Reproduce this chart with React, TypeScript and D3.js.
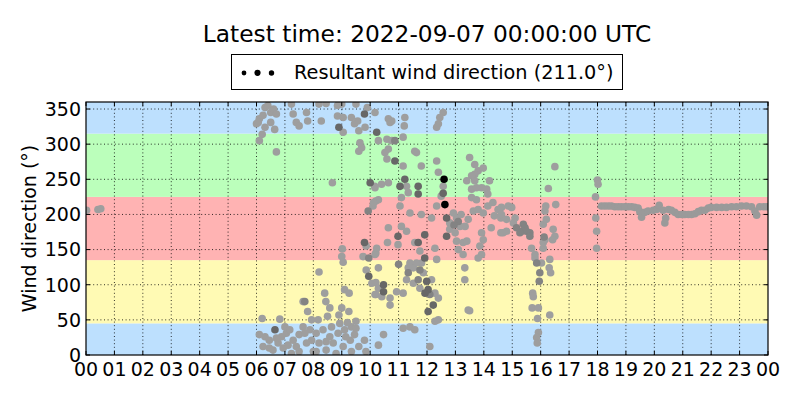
import React from "react";
import * as d3 from "d3";

const title = "Latest time: 2022-09-07 00:00:00 UTC";
const legendLabel = "Resultant wind direction (211.0°)";
const yLabel = "Wind direction (°)";
const hourTicks = d3.range(0, 25);
const degTicks = [0, 50, 100, 150, 200, 250, 300, 350];
const sectorBands: [number, number, string][] = [
  [0, 45, "N"],
  [45, 135, "E"],
  [135, 225, "S"],
  [225, 315, "W"],
  [315, 360, "N"],
];

// [hour, direction°]
const lightPoints: [number, number][] = [
  [0.02, 206], [0.42, 207], [0.52, 208],
  [6.0, 329], [6.1, 336], [6.3, 352], [6.4, 355], [6.5, 345], [6.6, 350], [6.7, 343], [6.5, 331], [6.3, 324], [6.2, 314], [6.1, 305], [6.06, 331], [6.23, 341], [6.64, 321],
  [7.23, 357], [7.29, 343], [7.4, 331], [7.5, 326], [7.76, 345], [7.8, 333], [6.7, 289],
  [8.2, 357], [8.45, 358], [8.85, 355], [9.0, 357], [8.85, 340], [9.05, 338], [9.05, 317], [8.28, 333],
  [9.5, 357], [9.56, 333], [9.6, 319], [9.82, 324], [9.9, 352], [9.34, 338], [9.45, 329],
  [9.64, 302], [9.7, 295], [9.6, 290], [8.67, 245], [10.16, 240], [10.1, 212], [10.2, 219],
  [9.86, 155], [9.75, 140], [10.2, 145], [9.02, 151], [9.0, 140], [9.05, 132],
  [8.2, 118], [9.86, 121], [10.2, 103], [10.2, 86], [9.1, 93], [9.26, 88],
  [7.64, 76], [7.8, 62], [8.4, 88], [8.44, 76], [8.58, 67], [8.5, 55], [8.9, 57], [9.0, 67], [9.25, 62], [7.94, 50], [8.17, 50],
  [6.2, 52], [6.82, 51],
  [6.1, 29], [6.3, 26], [6.45, 21], [6.76, 17], [6.94, 10], [7.05, 31], [7.0, 40], [7.17, 36], [7.29, 21], [7.4, 12], [7.5, 29], [7.64, 40], [7.7, 31], [7.88, 36], [7.94, 21],
  [8.1, 31], [8.2, 17], [8.34, 36], [8.45, 7], [8.58, 26], [8.64, 40], [8.7, 17], [8.87, 31], [9.05, 12], [9.1, 36], [9.3, 21], [9.34, 5], [9.5, 48], [9.6, 12], [9.8, 21], [9.85, 5],
  [9.45, 29], [6.45, 10], [7.5, 5], [6.88, 26], [6.23, 12], [6.58, 7], [7.23, 2], [8.1, 5], [8.45, 19], [8.8, 2], [9.14, 26], [7.76, 17], [8.0, 5], [7.11, 14], [6.7, 24],
  [8.93, 45], [9.34, 40], [9.2, 46], [9.5, 38],
  [10.17, 345], [10.64, 336], [10.7, 331], [10.76, 333], [11.22, 338], [11.2, 326], [12.57, 345], [12.45, 338], [12.4, 329], [12.34, 324],
  [10.29, 305], [10.59, 307], [10.76, 305], [11.16, 310], [10.64, 293], [10.52, 288], [10.59, 279], [11.57, 290], [11.63, 288], [11.16, 269], [11.8, 269], [12.34, 276], [12.4, 260],
  [13.5, 281], [13.68, 271], [13.8, 262], [13.98, 266], [13.68, 257], [13.57, 255],
  [10.17, 238], [10.4, 243], [10.64, 245], [11.28, 240], [11.34, 231], [12.57, 240], [12.5, 226], [13.4, 248], [13.68, 248], [13.57, 236], [13.74, 238], [13.92, 238], [14.1, 236], [14.2, 248], [14.14, 229],
  [13.57, 224], [13.74, 221], [11.1, 224], [11.05, 212], [10.29, 221], [10.12, 217],
  [11.4, 202], [11.8, 200], [12.16, 195], [12.34, 212], [12.8, 188], [12.93, 202], [13.04, 195], [13.2, 200], [12.8, 179], [12.99, 174], [13.16, 183], [13.34, 183], [13.45, 193],
  [13.04, 162], [13.27, 160], [13.4, 162], [13.1, 150], [13.27, 143], [13.63, 205], [13.8, 207], [13.98, 202], [14.14, 212], [14.32, 217], [14.5, 207], [14.37, 198], [14.6, 195],
  [14.26, 181], [14.6, 174], [13.92, 174], [13.98, 164], [13.86, 155], [13.92, 143], [13.8, 138],
  [10.64, 181], [11.1, 183], [11.28, 176], [10.98, 157], [10.61, 160], [11.57, 160], [11.75, 148], [12.28, 152], [12.34, 136], [10.23, 152], [10.17, 143], [11.34, 124],
  [10.29, 124], [10.06, 102], [10.29, 95], [10.17, 86], [10.7, 81], [10.41, 83], [10.7, 71], [10.93, 90], [11.16, 88], [11.4, 131], [11.52, 124], [11.28, 107], [11.52, 102],
  [11.87, 117], [11.81, 131], [12.16, 107], [11.75, 95], [12.28, 88], [12.4, 81], [12.4, 50], [12.28, 48], [13.33, 124], [13.33, 107], [13.45, 64], [13.5, 63], [11.63, 131],
  [11.4, 40], [11.57, 36], [11.16, 38], [10.47, 29], [10.29, 14], [12.1, 12],
  [14.62, 210], [14.86, 212], [14.98, 210], [14.62, 200], [14.8, 193], [15.1, 195], [15.04, 188], [14.68, 174], [14.8, 176], [15.68, 152],
  [15.8, 143], [15.8, 138], [16.03, 131], [16.09, 152], [16.09, 160], [16.15, 164], [16.44, 179], [16.5, 169], [16.42, 164], [16.09, 186], [16.2, 193], [16.15, 205], [16.18, 212], [16.53, 214],
  [16.27, 237], [16.5, 268], [16.32, 136], [16.3, 124], [16.35, 117], [15.72, 88], [15.74, 83], [15.7, 67], [15.92, 67], [15.89, 52], [16.32, 57],
  [15.92, 32], [15.86, 25], [15.88, 17],
  [18.0, 249], [18.02, 243], [17.93, 225], [17.94, 195], [17.97, 176], [17.97, 152],
];

// steady evening record, 18-24 h
const eveningPoints: [number, number][] = [
  [18.14, 212], [18.26, 212], [18.38, 212], [18.49, 212], [18.61, 211], [18.73, 211], [18.84, 211], [18.96, 211], [19.08, 211], [19.2, 211],
  [19.31, 210], [19.43, 209], [19.49, 204], [19.55, 196], [19.67, 203], [19.78, 205], [19.96, 206], [20.08, 207], [20.17, 213], [20.31, 206],
  [20.4, 195], [20.37, 188], [20.5, 207], [20.6, 206], [20.72, 203], [20.84, 200], [20.96, 200], [21.07, 200], [21.2, 200], [21.31, 200],
  [21.43, 201], [21.55, 204], [21.66, 206], [21.78, 206], [21.9, 209], [22.0, 210], [22.19, 210], [22.37, 210], [22.54, 210], [22.72, 211],
  [22.89, 211], [23.07, 212], [23.24, 212], [23.42, 211], [23.54, 205], [23.6, 199], [23.71, 211], [23.85, 211], [23.96, 211],
];

const mediumPoints: [number, number][] = [
  [15.15, 181], [15.33, 176], [15.39, 186], [15.45, 181], [15.5, 176], [15.62, 174], [15.62, 169], [15.27, 174], [15.86, 131], [15.97, 117], [15.95, 105], [16.12, 168],
  [7.7, 76], [9.93, 205], [9.95, 138], [10.87, 305], [11.0, 129], [11.34, 117], [11.69, 107], [12.1, 86], [11.75, 121], [13.1, 190], [12.95, 185],
];

const darkPoints: [number, number][] = [
  [6.65, 36], [9.8, 343], [8.9, 324], [10.0, 245], [9.8, 160], [9.95, 112], [10.23, 317], [10.87, 276], [11.22, 250], [11.05, 240],
  [11.69, 240], [11.69, 229], [12.57, 230], [12.69, 195], [12.69, 169], [10.98, 169], [11.92, 171], [11.69, 160], [11.92, 138],
  [10.47, 100], [10.47, 90], [11.99, 105], [12.04, 93], [11.93, 88], [12.22, 71], [12.04, 62],
];

const latestPoints: [number, number][] = [
  [12.6, 250], [12.63, 214],
];

const bandColors: Record<string, string> = {
  N: "#bde0fe",
  E: "#fffab4",
  S: "#ffb3b3",
  W: "#bbffbb",
};

const W = 800;
const H = 400;
const margin = { left: 86, right: 32, top: 102, bottom: 45 };
const FONT = "DejaVu Sans, sans-serif";

export default function App() {
  const x = d3.scaleLinear().domain([0, 24]).range([margin.left, W - margin.right]);
  const y = d3.scaleLinear().domain([0, 360]).range([H - margin.bottom, margin.top]);
  const x0 = x.range()[0];
  const x1 = x.range()[1];
  const y0 = y.range()[0];
  const y1 = y.range()[1];
  const r = 3.8;
  const tickLen = 4;

  const dots = (pts: [number, number][], fill: string, key: string) =>
    pts.map((p, i) => <circle key={key + i} cx={x(p[0])} cy={y(p[1])} r={r} fill={fill} />);

  return (
    <svg width={W} height={H} style={{ position: "absolute", left: 0, top: 0, background: "#fff" }} fontFamily={FONT}>
      <defs>
        <clipPath id="plotclip">
          <rect x={x0} y={y1} width={x1 - x0} height={y0 - y1} />
        </clipPath>
      </defs>
      {sectorBands.map((b, i) => (
        <rect key={i} x={x0} width={x1 - x0} y={y(b[1])} height={y(b[0]) - y(b[1])} fill={bandColors[b[2]]} />
      ))}
      {hourTicks.slice(1, -1).map((h) => (
        <line key={"gx" + h} x1={x(h)} x2={x(h)} y1={y0} y2={y1} stroke="#000" strokeWidth={0.8} strokeDasharray="1,2.6" />
      ))}
      {degTicks.slice(1).map((d) => (
        <line key={"gy" + d} x1={x0} x2={x1} y1={y(d)} y2={y(d)} stroke="#000" strokeWidth={0.8} strokeDasharray="1,2.6" />
      ))}
      <g clipPath="url(#plotclip)">
        {dots(lightPoints, "#9e9e9e", "l")}
        {dots(eveningPoints, "#9a9a9a", "e")}
        {dots(mediumPoints, "#838383", "m")}
        {dots(darkPoints, "#676767", "d")}
        {dots(latestPoints, "#000", "k")}
      </g>
      {hourTicks.map((h) => (
        <g key={"tx" + h}>
          <line x1={x(h)} x2={x(h)} y1={y0} y2={y0 - tickLen} stroke="#000" />
          <line x1={x(h)} x2={x(h)} y1={y1} y2={y1 + tickLen} stroke="#000" />
          <text x={x(h)} y={y0 + 21} fontSize={19} textAnchor="middle" fill="#000">
            {d3.format("02d")(h % 24)}
          </text>
        </g>
      ))}
      {degTicks.map((d) => (
        <g key={"ty" + d}>
          <line x1={x0} x2={x0 + tickLen} y1={y(d)} y2={y(d)} stroke="#000" />
          <line x1={x1} x2={x1 - tickLen} y1={y(d)} y2={y(d)} stroke="#000" />
          <text x={x0 - 5} y={y(d)} dy="0.36em" fontSize={19} textAnchor="end" fill="#000">
            {d}
          </text>
        </g>
      ))}
      <rect x={x0} y={y1} width={x1 - x0} height={y0 - y1} fill="none" stroke="#000" strokeWidth={1.2} />
      <text transform={`translate(36,${(y0 + y1) / 2}) rotate(-90)`} fontSize={19} textAnchor="middle" fill="#000">
        {yLabel}
      </text>
      <text x={(x0 + x1) / 2} y={42} fontSize={23.3} textAnchor="middle" fill="#000">
        {title}
      </text>
      <rect x={231.5} y={54.5} width={391} height={35} fill="#fff" stroke="#000" strokeWidth={1} />
      <circle cx={244} cy={73} r={2.4} fill="#000" />
      <circle cx={257.5} cy={72.8} r={3.1} fill="#000" />
      <circle cx={271.5} cy={73} r={2.7} fill="#000" />
      <text x={294} y={79} fontSize={19.3} fill="#000">
        {legendLabel}
      </text>
    </svg>
  );
}
